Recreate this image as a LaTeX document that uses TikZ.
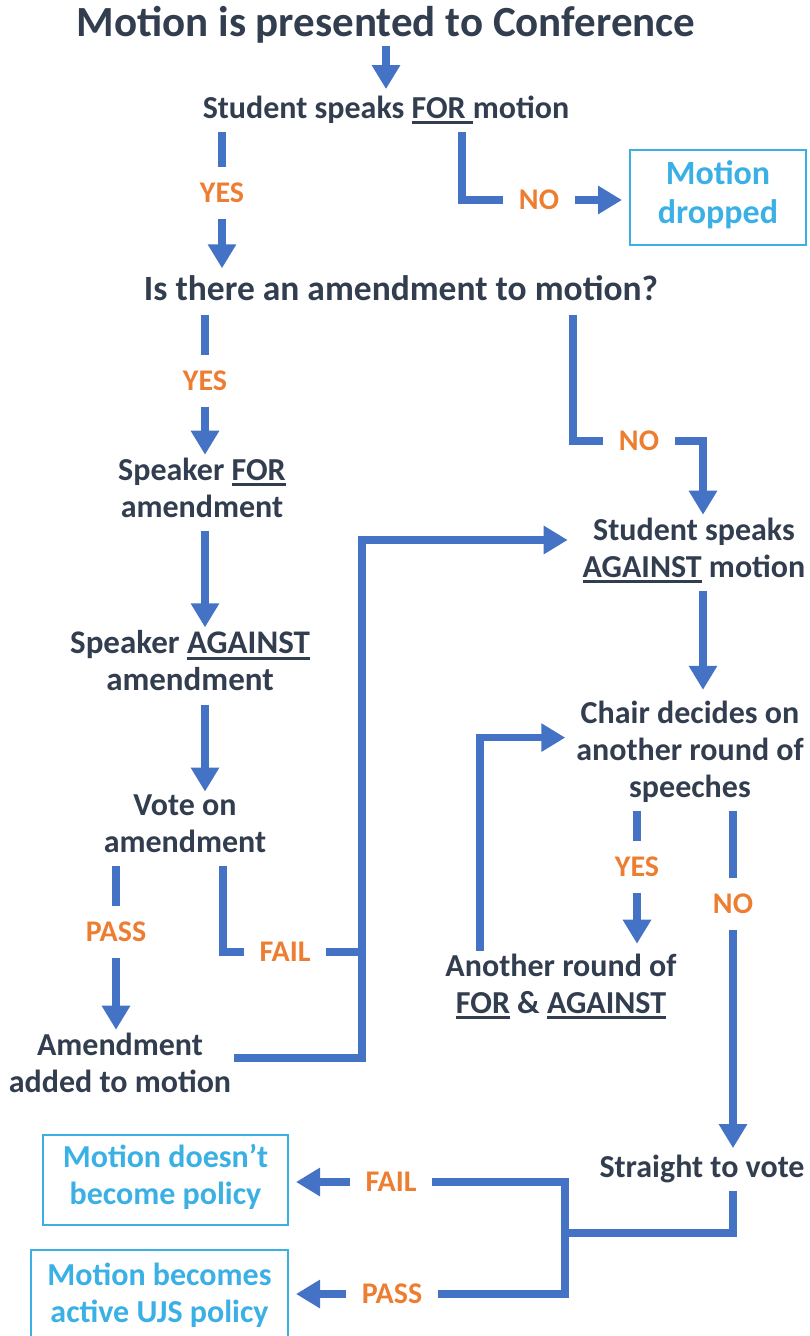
\documentclass[tikz,border=0pt]{standalone}
\usepackage{fontspec}
\setmainfont{Carlito}
\usetikzlibrary{arrows.meta}
\definecolor{ink}{RGB}{50,62,79}
\definecolor{flow}{RGB}{68,114,196}
\definecolor{yesno}{RGB}{237,125,49}
\definecolor{sky}{RGB}{59,176,228}
\newcommand\ulbar[1]{\setbox0\hbox{#1}\rlap{\rule[-6pt]{\wd0}{2.8pt}}\box0\relax}

\begin{document}
\begin{tikzpicture}[x=1pt,y=-1pt,
  txt/.style={text=ink,align=center,inner sep=0pt,outer sep=3pt,
    font=\fontsize{32}{37}\selectfont\bfseries,
    execute at begin node=\strut,execute at end node=\strut},
  lbl/.style={text=yesno,inner sep=0pt,outer sep=16pt,
    font=\fontsize{30}{36}\selectfont\bfseries},
  endbox/.style={txt,draw=sky,text=sky,line width=1.8pt,outer sep=8pt},
  link/.style={draw=flow,line width=7.5pt},
  arr/.style={link,-{Triangle[width=27pt,length=24pt]}}]
  \useasboundingbox (0,0) rectangle (810,1336);

  \node[txt,font=\fontsize{43}{52}\selectfont\bfseries] (title) at (386,25.6) {Motion is presented to Conference};
  \node[txt] (sfor) at (386,110.6) {Student speaks \ulbar{FOR\ }motion};
  \node[lbl] (yes1) at (222,193) {YES};
  \node[lbl] (no1) at (539,200) {NO};
  \node[endbox,font=\fontsize{34}{39}\selectfont\bfseries,minimum width=176pt,minimum height=95pt] (dropped) at (718,197.5) {Motion\\dropped};

  \node[txt,font=\fontsize{35.5}{41}\selectfont\bfseries] (isamend) at (401,291.8) {Is there an amendment to motion?};
  \node[lbl] (yes2) at (205,381) {YES};
  \node[lbl] (no2) at (639,441) {NO};
  \node[txt] (sfam) at (202,493) {Speaker \ulbar{FOR}\\amendment};
  \node[txt,font=\fontsize{33}{37}\selectfont\bfseries] (sagam) at (190,666) {Speaker \ulbar{AGAINST}\\amendment};
  \node[txt] (voteam) at (185,829) {Vote on\\amendment};
  \node[lbl] (pass1) at (116,932) {PASS};
  \node[lbl] (fail1) at (285,952) {FAIL};
  \node[txt] (added) at (120,1068) {Amendment\\added to motion};

  \node[txt] (ssag) at (694,553) {Student speaks\\\ulbar{AGAINST} motion};
  \node[txt] (chair) at (690,754.6) {Chair decides on\\another round of\\speeches};
  \node[lbl] (yes3) at (637,867) {YES};
  \node[lbl] (no3) at (733,904) {NO};
  \node[txt] (another) at (561,989) {Another round of\\\ulbar{FOR} \& \ulbar{AGAINST}};
  \node[txt] (straight) at (702,1169.6) {Straight to vote};

  \node[lbl] (fail2) at (391,1182) {FAIL};
  \node[lbl] (pass2) at (392,1294) {PASS};
  \node[endbox,minimum width=245pt,minimum height=90pt] (notpol) at (165.5,1180) {Motion doesn't\\become policy};
  \node[endbox,minimum width=257pt,minimum height=96pt] (active) at (159.5,1298) {Motion becomes\\active UJS policy};
  \coordinate (loop) at (362,540);
  \coordinate (split) at (565,1233);

  % top part
  \draw[arr,shorten <=-9pt] (title) -- (sfor);
  \draw[link] (sfor.south -| yes1) -- (yes1);
  \draw[arr] (yes1) -- (yes1 |- isamend.north);
  \draw[link] ([xshift=76pt]sfor.south) |- (no1);
  \draw[arr] (no1) -- (no1 -| dropped.west);

  % amendment side
  \draw[link] (isamend.south -| yes2) -- (yes2);
  \draw[arr] (yes2) -- (yes2 |- sfam.north);
  \draw[arr] (sfam.south -| yes2) -- (yes2 |- sagam.north);
  \draw[arr] (sagam.south -| yes2) -- (yes2 |- voteam.north);
  \draw[link] (voteam.south -| pass1) -- (pass1);
  \draw[arr] (pass1) -- (pass1 |- added.north);
  \draw[link] ([xshift=38pt]voteam.south) |- (fail1);
  \draw[link] (fail1) -- (fail1 -| loop);
  \draw[arr,shorten >=12pt] ([yshift=10pt]added.east) -| (loop) -- (loop -| ssag.west);

  % no amendment side
  \draw[link] ([xshift=172pt]isamend.south) |- (no2);
  \draw[arr] (no2) -| ([xshift=9pt]ssag.north);
  \draw[arr,shorten >=8pt] ([xshift=9pt]ssag.south) -- ([xshift=9pt]ssag.south |- chair.north);
  \draw[link] (chair.south -| yes3) -- (yes3);
  \draw[arr,shorten >=7pt] (yes3) -- (yes3 |- another.north);
  \draw[arr,shorten >=8pt] ([xshift=-81pt]another.north) |- ([yshift=17pt]chair.west);
  \draw[link] (chair.south -| no3) -- (no3);
  \draw[arr] (no3) -- (no3 |- straight.north);

  % final vote
  \draw[link] (straight.south -| no3) |- (split);
  \draw[link] (fail2) -| (split) |- (pass2);
  \draw[arr] (fail2) -- (fail2 -| notpol.east);
  \draw[arr] (pass2) -- (pass2 -| active.east);
\end{tikzpicture}
\end{document}
